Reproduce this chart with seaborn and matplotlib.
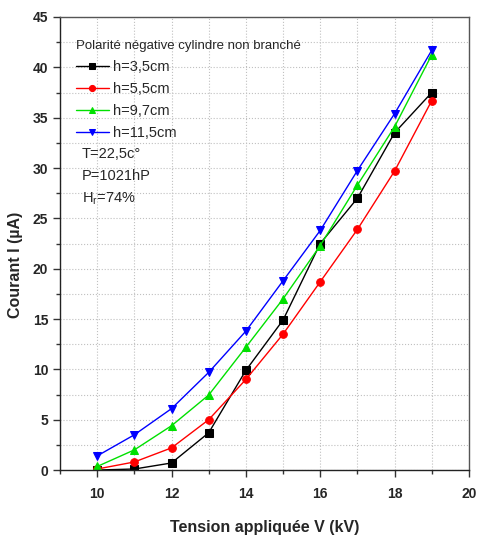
import numpy as np
import pandas as pd
import matplotlib
matplotlib.use('Agg')
import matplotlib.pyplot as plt
import seaborn as sns
from matplotlib.ticker import MultipleLocator

# Données
tension = [10, 11, 12, 13, 14, 15, 16, 17, 18, 19]
h_3_5 = [0.0, 0.1, 0.7, 3.7, 9.9, 14.9, 22.5, 27.0, 33.5, 37.5]
h_5_5 = [0.1, 0.8, 2.2, 5.0, 9.0, 13.5, 18.7, 23.9, 29.7, 36.7]
h_9_7 = [0.35, 2.0, 4.4, 7.45, 12.2, 17.0, 22.3, 28.3, 34.1, 41.25]
h_11_5 = [1.4, 3.5, 6.1, 9.7, 13.8, 18.8, 23.8, 29.75, 35.4, 41.7]

series = ['h=3,5cm', 'h=5,5cm', 'h=9,7cm', 'h=11,5cm']
couleurs = ['black', '#ff0000', '#00e000', '#0000ff']
marqueurs = ['s', 'o', '^', 'v']

df = pd.DataFrame({'V': tension * 4,
                   'I': h_3_5 + h_5_5 + h_9_7 + h_11_5,
                   'h': [s for s in series for _ in tension]})

sns.set_style('white')
plt.rcParams['font.family'] = ['Liberation Sans', 'DejaVu Sans']

fig = plt.figure(figsize=(4.8, 5.43), dpi=100)
ax = fig.add_axes([0.125, 0.1344, 0.852, 0.8343])

for nom, c, m in zip(series, couleurs, marqueurs):
    d = df[df['h'] == nom]
    sns.lineplot(data=d, x='V', y='I', ax=ax, color=c, marker=m, markersize=5.5,
                 markeredgecolor=c, linewidth=1.0, label=nom)

ax.set_xlim(9, 20)
ax.set_ylim(0, 45)
ax.xaxis.set_major_locator(MultipleLocator(2))
ax.xaxis.set_minor_locator(MultipleLocator(1))
ax.yaxis.set_major_locator(MultipleLocator(5))
ax.yaxis.set_minor_locator(MultipleLocator(2.5))
ax.set_xticks([10, 12, 14, 16, 18, 20])
ax.grid(True, which='both', linestyle=':', color='#c0c0c0', linewidth=0.8)
ax.tick_params(which='major', direction='out', length=5, width=1, bottom=True, left=True,
               labelsize=10, color='#333333')
ax.tick_params(axis='x', which='major', pad=7)
ax.tick_params(which='minor', direction='out', length=3, width=1, bottom=True, left=True,
               color='#333333')
for lab in ax.get_xticklabels() + ax.get_yticklabels():
    lab.set_fontweight('bold')
for s in ax.spines.values():
    s.set_color('#555555')
    s.set_linewidth(1.0)
ax.spines['left'].set_color('#222222')
ax.spines['bottom'].set_color('#222222')

ax.set_xlabel('Tension appliquée V (kV)', fontsize=11.5, fontweight='bold', labelpad=14)
ax.set_ylabel('Courant I (µA)', fontsize=11.5, fontweight='bold')
ax.yaxis.set_label_coords(-0.09, 0.453)

leg = ax.legend(title='Polarité négative cylindre non branché', loc='upper left',
                bbox_to_anchor=(0.038, 0.95), frameon=False, fontsize=10.5,
                title_fontsize=9.5, handlelength=2.3, handletextpad=0.3,
                labelspacing=0.55, borderaxespad=0, markerscale=0.8, borderpad=0)
leg._legend_box.align = 'left'

ax.text(0.054, 0.698, 'T=22,5c°', transform=ax.transAxes, fontsize=10.5, va='center')
ax.text(0.054, 0.649, 'P=1021hP', transform=ax.transAxes, fontsize=10.5, va='center')
ax.text(0.054, 0.600, r'H$_\mathregular{r}$=74%', transform=ax.transAxes, fontsize=10.5,
        va='center')

plt.savefig('out.png', dpi=100)
